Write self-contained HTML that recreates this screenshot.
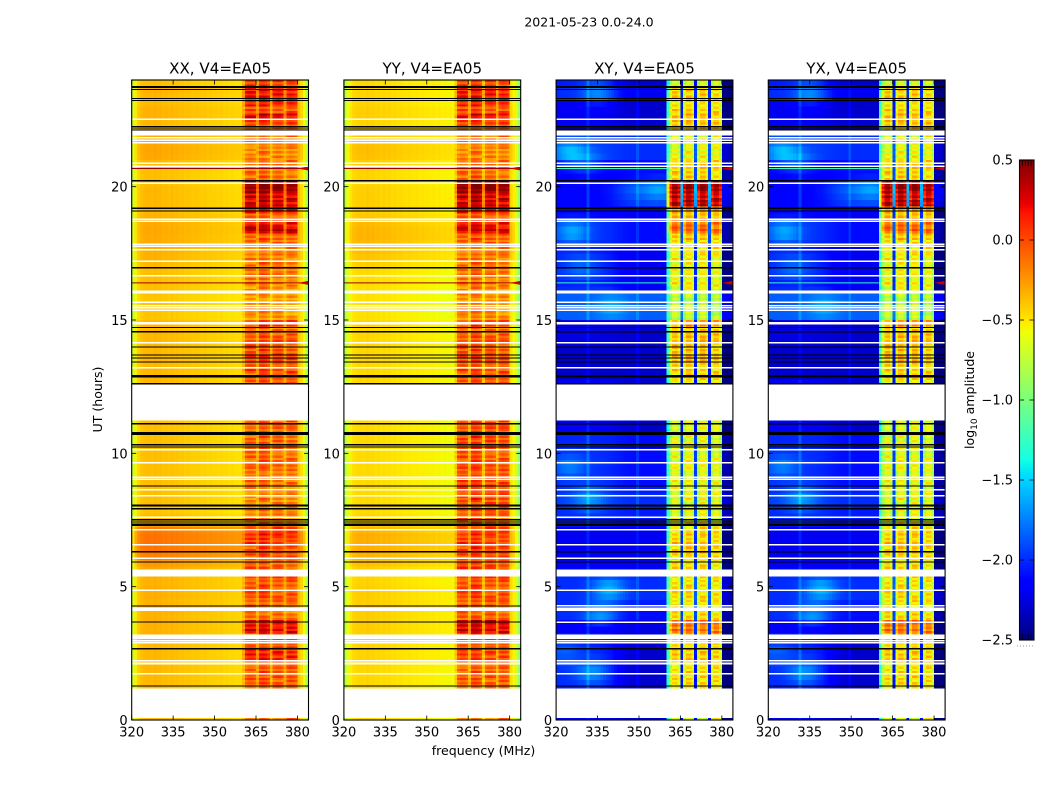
<!DOCTYPE html>
<html lang="en">
<head>
<meta charset="utf-8">
<title>2021-05-23 0.0-24.0</title>
<style>
html,body{margin:0;padding:0;background:#fff;width:1050px;height:800px;overflow:hidden}
svg{display:block}
text{font-family:"DejaVu Sans","Liberation Sans",sans-serif;fill:#000}
</style>
</head>
<body>
<svg id="chart" xmlns="http://www.w3.org/2000/svg" width="1050" height="800" viewBox="0 0 1050 800">
  <rect width="1050" height="800" fill="#fff"/>
  <text x="589" y="26.5" font-size="12.55" text-anchor="middle">2021-05-23 0.0-24.0</text>
  <text x="483.5" y="755" font-size="12.55" text-anchor="middle">frequency (MHz)</text>
  <text transform="translate(102,399.5) rotate(-90)" font-size="12.55" text-anchor="middle">UT (hours)</text>
  <text transform="translate(974,400) rotate(-90)" font-size="12.55" text-anchor="middle">log<tspan font-size="9" dy="3">10</tspan><tspan dy="-3"> amplitude</tspan></text>
  <g id="panels"></g>
  <g id="colorbar"></g>
</svg>
<script>
const xTicks = [320, 335, 350, 365, 380];
const yTicks = [0, 5, 10, 15, 20];
const colorTicks = [0.5, 0, -0.5, -1, -1.5, -2, -2.5];
const colorTickLabels = ["0.5", "0.0", "\u22120.5", "\u22121.0", "\u22121.5", "\u22122.0", "\u22122.5"];
const firstChannel = 320;
const hoursPerRow = 0.25;

/* Per-channel structure, 320-383 MHz at 1 MHz each */
const parallelOffset = [-.32,-.15,-.05,0,.02,.03,.03,.02,.04,.02,.03,.01,.02,0,.02,0,.01,-.01,0,-.02,-.01,-.02,-.03,-.02,-.03,-.04,-.03,-.05,-.04,-.05,-.05,-.06,-.05,-.07,-.06,-.08,-.07,-.08,-.08,-.09,-.08,
  -.03,.02,.02,-.03,-.04,.06,.08,.05,-.02,-.1,-.02,.02,.02,-.03,-.06,-.02,.02,0,-.05,0,-.08,-.22,-.42];
const crossOffset = [0,0,0,0,0,0,0,0,0,0,0,.16,0,0,0,0,0,0,0,0,0,0,0,0,0,0,0,0,0,.12,0,0,0,0,0,0,0,0,0,0,0,
  -.15,.12,.15,-.02,-.1,-.1,.15,.15,0,-.1,-.1,.15,.15,0,-.1,-.1,.12,.1,-.12,-.1,-.02,-.05,-.15];
const bandMix = [0,0,0,0,0,0,0,0,0,0,0,0,0,0,0,0,0,0,0,0,0,0,0,0,0,0,0,0,0,0,0,0,0,0,0,0,0,0,0,0,0.35,
  1,1,1,1,.45,1,1,1,1,.45,1,1,1,1,.45,1,1,1,1,0,0,0,0];
const crossBandMix = [0,0,0,0,0,0,0,0,0,0,0,0,0,0,0,0,0,0,0,0,0,0,0,0,0,0,0,0,0,0,0,0,0,0,0,0,0,0,0,0,.6,
  1,1,1,1,.18,1,1,1,1,.18,1,1,1,1,.18,1,1,1,1,0,0,0,0];
const leftWeight = [1,1,1,1,1,1,1,1,1,1,1,1,1,1,1,1,.95,.9,.85,.8,.7,.6,.5,.4,.3,.2,.15,.1,.05,0,0,0,0,0,0,0,0,0,0,0,0,0,0,0,0,0,0,0,0,0,0,0,0,0,0,0,0,0,0,0,-.2,-.25,-.25,-.2];
/* Fine row striping seen inside the 361-380 MHz bands */
const bandFineStructure = [.12,-.1,.05,-.14,.1,.02,-.12,.15,-.06,.04,-.1,.08,-.03];

/* Bright patches in the cross-polarisation background */
const patchTimes = [21.3,23.5,18.3,19.9,15.5,4.9,3.9,1.8,9.5,8.3,2.6,20.9,17.0];
const patchFreqs = [325,335,326,357,340,339,336,333,325,332,323,331,329];
const patchBoosts = [.38,.3,.36,.22,.25,.42,.32,.3,.25,.3,.18,.22,.2];

/* Row levels in log10 amplitude, one value every quarter hour */
const xxBackground = [-.4,-.4,-.4,-.4, -.4,-.38,-.38,-.38, -.38,-.38,-.38,-.38, -.36,-.36,-.36,-.36,
  -.36,-.36,-.35,-.35, -.36,-.36,-.33,-.28, -.2,-.17,-.16,-.16, -.18,-.38,-.4,-.42,
  -.4,-.4,-.4,-.4, -.4,-.4,-.4,-.4, -.4,-.4,-.4,-.4, -.4,-.4,-.4,-.4,
  -.4,-.4,-.38,-.38, -.38,-.38,-.38,-.38, -.38,-.38,-.38,-.38, -.42,-.42,-.42,-.42,
  -.4,-.4,-.4,-.4, -.38,-.36,-.35,-.34, -.34,-.33,-.34,-.36, -.38,-.38,-.38,-.38,
  -.4,-.4,-.4,-.38, -.33,-.32,-.33,-.35, -.36,-.38,-.36,-.36, -.38,-.37,-.36,-.4];
const xxBand = [-.12,-.18,-.18,-.18, -.18,-.08,-.06,-.06, -.06,.1,.1,-.03, -.06,.24,.2,-.15,
  -.15,-.1,-.05,-.05, -.05,0,-.05,-.1, -.05,-.05,.04,.08, .02,-.18,-.2,-.2,
  -.2,-.2,-.18,-.13, -.13,-.13,-.11,-.11, -.08,-.1,-.1,-.1, -.08,-.1,-.08,-.08,
  -.08,-.08,-.08,-.13, 0,-.03,.02,-.03, -.03,-.06,-.13,.02, -.26,-.26,-.26,-.26,
  -.25,-.2,-.13,-.18, -.13,-.18,-.18,-.1, -.08,.32,.15,-.08, .2,.26,.26,.42,
  .42,-.13,-.13,-.13, -.22,-.2,-.18,-.13, -.06,.02,.24,-.03, .14,.14,.16,.04];
const yyBackground = [-.5,-.5,-.5,-.5, -.5,-.48,-.48,-.48, -.47,-.47,-.47,-.47, -.45,-.45,-.45,-.45,
  -.45,-.45,-.45,-.45, -.47,-.47,-.45,-.41, -.37,-.35,-.35,-.35, -.37,-.47,-.48,-.49,
  -.49,-.49,-.49,-.49, -.49,-.49,-.49,-.49, -.49,-.49,-.49,-.49, -.49,-.49,-.49,-.49,
  -.49,-.49,-.48,-.48, -.48,-.48,-.48,-.48, -.48,-.48,-.48,-.48, -.51,-.51,-.51,-.51,
  -.5,-.5,-.5,-.49, -.45,-.42,-.4,-.38, -.37,-.37,-.39,-.43, -.45,-.45,-.45,-.45,
  -.47,-.47,-.47,-.45, -.41,-.4,-.41,-.43, -.45,-.47,-.45,-.45, -.47,-.47,-.47,-.49];
const yyBand = [-.18,-.2,-.2,-.2, -.18,-.1,-.08,-.08, -.08,-.03,0,-.03, -.03,.26,.28,-.1,
  -.08,-.06,-.03,-.03, -.03,.02,.02,-.03, -.03,0,.04,.02, 0,-.08,-.08,-.06,
  -.03,0,.02,0, 0,-.03,-.06,-.05, -.03,-.02,0,-.02, -.03,-.04,-.05,-.05,
  -.08,-.08,-.08,-.13, -.03,-.03,-.03,-.03, -.06,-.06,-.13,-.03, -.22,-.22,-.22,-.22,
  -.22,-.18,-.13,-.16, -.13,-.16,-.16,-.08, -.06,.26,.15,-.06, .2,.26,.28,.45,
  .45,-.11,-.13,-.13, -.22,-.2,-.18,-.13, -.08,.02,.18,-.03, .12,.12,.14,.02];
const crossLeft = [-2.2,-2.2,-2.2,-2.2, -2.05,-2,-2,-2, -2,-2.02,-2.02,-2.05, -2.05,-2.2,-2.2,-2,
  -2,-2,-2,-2, -2,-2,-2.15,-2.2, -2.2,-2.2,-2.2,-2.2, -2.2,-2.02,-2,-2,
  -1.95,-1.95,-2,-2, -2,-2,-1.98,-2, -2,-2.02,-2.02,-2.2, -2.2,-2.2,-2.2,-2.2,
  -2.2,-2.2,-2.2,-2.3, -2.3,-2.3,-2.3,-2.3, -2.25,-2.25,-2.25,-2.25, -1.85,-1.85,-1.85,-1.85,
  -2,-2.05,-2,-2, -2.02,-2.02,-2.05,-2, -1.98,-1.98,-1.98,-2.12, -2.12,-2.12,-2.12,-2.12,
  -2.12,-2.15,-2.15,-2.15, -1.95,-1.95,-1.95,-1.95, -2.15,-2.2,-2.2,-2.2, -2.2,-2,-2,-2.05];
const crossMiddle = [-2.3,-2.3,-2.3,-2.3, -2.3,-2.3,-2.3,-2.3, -2.3,-2.3,-2.3,-2.3, -2.25,-2.25,-2.25,-2.1,
  -2.1,-2.05,-2,-2, -2,-2,-2.2,-2.2, -2.2,-2.2,-2.2,-2.2, -2.2,-2.1,-2.05,-2.05,
  -2,-2,-2.05,-2.1, -2.1,-2.1,-2.1,-2.1, -2.1,-2.1,-2.1,-2.3, -2.3,-2.3,-2.3,-2.3,
  -2.3,-2.3,-2.3,-2.3, -2.3,-2.3,-2.3,-2.3, -2.3,-2.3,-2.3,-2.3, -1.85,-1.85,-1.85,-1.85,
  -2.2,-2.2,-2.2,-2.2, -2.2,-2.2,-2.2,-2.1, -2.1,-2.1,-2.1,-2.2, -2.2,-1.95,-1.9,-1.85,
  -1.9,-2.1,-2.1,-2.1, -2,-2,-2,-2, -2.3,-2.3,-2.3,-2.3, -2.3,-2.2,-2.2,-2.3];
const crossBand = [-.7,-.7,-.7,-.7, -.7,-.6,-.6,-.6, -.6,-.55,-.55,-.55, -.55,-.25,-.22,-.6,
  -.6,-.6,-.6,-.6, -.6,-.6,-.6,-.6, -.6,-.55,-.5,-.55, -.6,-.7,-.75,-.75,
  -.75,-.7,-.7,-.7, -.72,-.72,-.72,-.72, -.75,-.75,-.75,-.75, -.75,-.75,-.75,-.75,
  -.7,-.7,-.7,-.6, -.55,-.5,-.5,-.5, -.5,-.5,-.55,-.4, -.85,-.85,-.85,-.85,
  -.75,-.65,-.7,-.7, -.7,-.65,-.6,-.6, -.5,-.2,-.25,-.45, -.4,.25,.2,.3,
  .3,-.55,-.55,-.55, -.7,-.7,-.7,-.7, -.5,-.5,-.5,-.55, -.6,-.55,-.55,-.75];

/* Flagged times in UT hours */
const blackFlags = [23.76,23.73,23.64,23.31,23.23,22.26,22.2,22.13,20.22,19.19,19.09,16.96,14.72,14.56,13.99,13.69,13.58,13.43,12.91,12.87,12.62,12.6,11.11,10.78,10.74,10.71,10.32,10.24,8.78,8.05,8.02,7.92,7.51,7.43,7.34,7.3,6.31,5.93,2.67,1.28];
const blackFlagsParallelOnly = [4.28,3.67];
const whiteFlags = [22.53,21.84,21.75,21.65,20.88,20.76,20.13,18.78,18.7,17.84,17.76,17.63,17.2,16.66,15.67,15.54,15.46,15.36,14.14,13.21,10.14,9.64,9.1,9.03,8.63,8.41,7.6,7.13,6.57,6.07,4.86,2.97,2.89,2.23,1.73];
const whiteFlagsCrossOnly = [4.28,3.67];
const whiteGapStarts = [22.11,16.1,14.92,12.58,5.64,4.21,3.2,2.16,1.19];
const whiteGapEnds = [21.92,16.0,14.84,11.24,5.38,4.08,3.04,2.08,0.08];
const rfiTimes = [20.68,16.39];
const rfiParallelLevel = 0.42;
const rfiCrossLevel = -1.25;
const rfiFlareLevel = 0.3;

const panelTitles = ["XX, V4=EA05","YY, V4=EA05","XY, V4=EA05","YX, V4=EA05"];
const panelKinds = ["parallel","parallel","cross","cross"];

const SVGNS = "http://www.w3.org/2000/svg";
const panelsGroup = document.getElementById("panels");
const colorbarGroup = document.getElementById("colorbar");
const axisLeft = [131.7,343.9,556.1,768.3];
const axisWidth = 176.8;
const axisTop = 80;
const axisBottom = 720;
const freqMin = 320, freqMax = 384, utMin = 0, utMax = 24;
const colorMin = -2.5, colorMax = 0.5;
const subRows = 3;
const tickFont = 13;

function xScale(panel, mhz){ return axisLeft[panel] + (mhz - freqMin) / (freqMax - freqMin) * axisWidth; }
function yScale(ut){ return axisBottom - (ut - utMin) / (utMax - utMin) * (axisBottom - axisTop); }
function piece(f, stops){
  for (let i = 1; i < stops.length; i++) {
    if (f <= stops[i][0]) {
      const a = stops[i-1], b = stops[i];
      return a[1] + (b[1]-a[1]) * (f-a[0]) / (b[0]-a[0]);
    }
  }
  return stops[stops.length-1][1];
}
function jet(v){
  const f = Math.max(0, Math.min(1, (v - colorMin) / (colorMax - colorMin)));
  const r = piece(f, [[0,0],[.35,0],[.66,1],[.89,1],[1,.5]]);
  const g = piece(f, [[0,0],[.125,0],[.375,1],[.64,1],[.91,0],[1,0]]);
  const b = piece(f, [[0,.5],[.11,1],[.34,1],[.65,0],[1,0]]);
  return "rgb(" + Math.round(r*255) + "," + Math.round(g*255) + "," + Math.round(b*255) + ")";
}
function patchLevel(row, ch){
  const ut = (row + 0.5) * hoursPerRow;
  const mhz = firstChannel + ch + 0.5;
  let sum = 0;
  for (let i = 0; i < patchTimes.length; i++) {
    const du = (ut - patchTimes[i]) / 0.45;
    const df = (mhz - patchFreqs[i]) / 6;
    sum += patchBoosts[i] * Math.exp(-(du * du + df * df));
  }
  return sum;
}
function cellLevel(panel, row, ch){
  if (panel === 0 || panel === 1) {
    const bg = (panel === 0 ? xxBackground : yyBackground)[row];
    const band = (panel === 0 ? xxBand : yyBand)[row];
    const m = bandMix[ch];
    return (1 - m) * bg + m * band + parallelOffset[ch];
  }
  const w = Math.max(0, leftWeight[ch]);
  const bg = w * crossLeft[row] + (1 - w) * crossMiddle[row] + Math.min(0, leftWeight[ch]);
  const m = crossBandMix[ch];
  const patch = ch < 60 ? patchLevel(row, ch) : 0;
  return (1 - m) * (bg + patch) + m * crossBand[row] + crossOffset[ch];
}
function addRect(parent, x, y, w, h, fill){
  const r = document.createElementNS(SVGNS, "rect");
  r.setAttribute("x", x);
  r.setAttribute("y", y);
  r.setAttribute("width", w);
  r.setAttribute("height", h);
  r.setAttribute("fill", fill);
  parent.appendChild(r);
  return r;
}
function addLine(parent, x1, y1, x2, y2, stroke, width){
  const l = document.createElementNS(SVGNS, "line");
  l.setAttribute("x1", x1);
  l.setAttribute("y1", y1);
  l.setAttribute("x2", x2);
  l.setAttribute("y2", y2);
  l.setAttribute("stroke", stroke);
  l.setAttribute("stroke-width", width);
  parent.appendChild(l);
  return l;
}
function addText(parent, x, y, str, size, anchor){
  const t = document.createElementNS(SVGNS, "text");
  t.setAttribute("x", x);
  t.setAttribute("y", y);
  t.setAttribute("font-size", size);
  t.setAttribute("text-anchor", anchor);
  t.textContent = str;
  parent.appendChild(t);
  return t;
}

panelTitles.forEach(function(title, p){
  const kind = panelKinds[p];
  const g = document.createElementNS(SVGNS, "g");
  
  
  panelsGroup.appendChild(g);

  const cells = document.createElementNS(SVGNS, "g");
  cells.setAttribute("shape-rendering", "crispEdges");
  
  
  g.appendChild(cells);
  const rowCount = (kind === "parallel" ? xxBackground : crossLeft).length;
  const mix = kind === "parallel" ? bandMix : crossBandMix;
  for (let row = 0; row < rowCount; row++) {
    for (let ch = 0; ch < mix.length; ch++) {
      const x0 = xScale(p, firstChannel + ch);
      const x1 = xScale(p, firstChannel + ch + 1);
      const level = cellLevel(p, row, ch);
      const parts = mix[ch] > 0 ? subRows : 1;
      const subband = Math.floor(ch / 5);
      for (let s = 0; s < parts; s++) {
        const utHigh = (row + 1 - s / parts) * hoursPerRow;
        const utLow = (row + 1 - (s + 1) / parts) * hoursPerRow;
        const fine = parts > 1 ? mix[ch] * bandFineStructure[(row * subRows + s + subband * 4) % bandFineStructure.length] : 0;
        const cell = addRect(cells, x0, yScale(utHigh), x1 - x0, yScale(utLow) - yScale(utHigh), jet(level + fine));
        
        
      }
    }
  }

  const x0 = xScale(p, freqMin), x1 = xScale(p, freqMax);

  rfiTimes.forEach(function(ut){
    const rfi = addLine(g, x0, yScale(ut), kind === "parallel" ? x1 : xScale(p, 360), yScale(ut), jet(kind === "parallel" ? rfiParallelLevel : rfiCrossLevel), 1);
    
    
    const flare = document.createElementNS(SVGNS, "polygon");
    const fy = yScale(ut);
    flare.setAttribute("points", xScale(p,380) + "," + fy + " " + x1 + "," + (fy-2) + " " + x1 + "," + (fy+2));
    flare.setAttribute("fill", jet(rfiFlareLevel));
    
    
    g.appendChild(flare);
  });

  const flags = document.createElementNS(SVGNS, "g");
  flags.setAttribute("shape-rendering", "crispEdges");
  
  
  g.appendChild(flags);
  whiteGapStarts.forEach(function(ut, i){
    const gap = addRect(flags, x0, yScale(ut), x1 - x0, yScale(whiteGapEnds[i]) - yScale(ut), "#fff");
    
    
  });
  const whites = kind === "cross" ? whiteFlags.concat(whiteFlagsCrossOnly) : whiteFlags;
  whites.forEach(function(ut){
    const w = addLine(flags, x0, yScale(ut), x1, yScale(ut), "#fff", 1.5);
    
    
  });
  const blacks = kind === "parallel" ? blackFlags.concat(blackFlagsParallelOnly) : blackFlags;
  blacks.forEach(function(ut){
    const b = addLine(flags, x0, yScale(ut), x1, yScale(ut), "#000", 1.2);
    
    
  });

  xTicks.forEach(function(v){
    const x = xScale(p, v);
    const t1 = addLine(g, x, axisBottom, x, axisBottom - 4.5, "#000", 0.8);
    
    
    const t2 = addLine(g, x, axisTop, x, axisTop + 4.5, "#000", 0.8);
    
    
    const lab = addText(g, x, 736.5, String(v), tickFont, "middle");
    
    
  });
  yTicks.forEach(function(v){
    const y = yScale(v);
    const t1 = addLine(g, x0, y, x0 + 4.5, y, "#000", 0.8);
    
    
    const t2 = addLine(g, x1, y, x1 - 4.5, y, "#000", 0.8);
    
    
    const lab = addText(g, x0 - 4, y + 5, String(v), tickFont, "end");
    
    
  });

  const frame = addRect(g, x0, axisTop, x1 - x0, axisBottom - axisTop, "none");
  frame.setAttribute("stroke", "#000");
  frame.setAttribute("stroke-width", "1.1");
  
  

  const ttl = addText(g, (x0 + x1) / 2, 73.5, title, 15.1, "middle");
  
  
});

/* colorbar */
const barLeft = 1019.5, barRight = 1034, barTop = 160, barBottom = 640;
function barY(v){ return barBottom - (v - colorMin) / (colorMax - colorMin) * (barBottom - barTop); }
const barCells = document.createElementNS(SVGNS, "g");
barCells.setAttribute("shape-rendering", "crispEdges");


colorbarGroup.appendChild(barCells);
for (let i = 0; i < 240; i++) {
  const v0 = colorMin + (colorMax - colorMin) * i / 240;
  const v1 = colorMin + (colorMax - colorMin) * (i + 1) / 240;
  const seg = addRect(barCells, barLeft, barY(v1), barRight - barLeft, barY(v0) - barY(v1), jet((v0 + v1) / 2));
  
  
}
colorTicks.forEach(function(v, i){
  const y = barY(v);
  const a = addLine(colorbarGroup, barLeft, y, barLeft + 4.5, y, "#000", 0.8);
  
  
  const b = addLine(colorbarGroup, barRight, y, barRight - 4.5, y, "#000", 0.8);
  
  
  const lab = addText(colorbarGroup, 1013, y + 4.5, colorTickLabels[i], tickFont, "end");
  
  
});
for (let k = 1; k < 5; k++) {
  const x = barLeft + k * (barRight - barLeft) / 5;
  const top = addLine(colorbarGroup, x, barTop, x, barTop + 6, "#000", 0.7);
  
  
  const bot = addLine(colorbarGroup, x, barBottom, x, barBottom - 6, "#000", 0.7);
  
  
}
const barFrame = addRect(colorbarGroup, barLeft, barTop, barRight - barLeft, barBottom - barTop, "none");
barFrame.setAttribute("stroke", "#000");
barFrame.setAttribute("stroke-width", "1.1");


const dots = addLine(colorbarGroup, 1017, 646, 1035, 646, "#999", 1);
dots.setAttribute("stroke-dasharray", "1 2");


</script>
</body>
</html>
